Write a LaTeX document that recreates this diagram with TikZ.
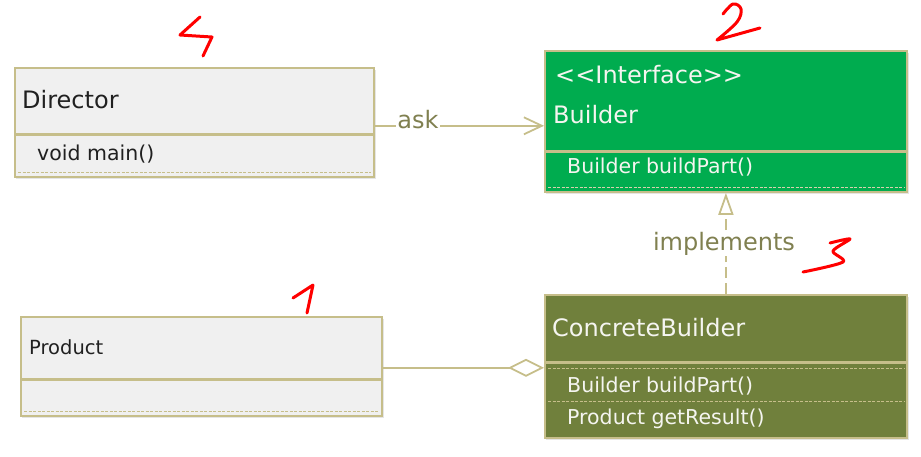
\documentclass[tikz,border=0pt]{standalone}
\usepackage{fontspec}
\setmainfont{DejaVu Sans}
\usetikzlibrary{arrows.meta}
\definecolor{edgecol}{RGB}{198,190,138}
\definecolor{lightbg}{RGB}{240,240,240}
\definecolor{ifgreen}{RGB}{0,172,79}
\definecolor{olivebox}{RGB}{112,128,60}
\definecolor{lblcol}{RGB}{128,128,80}
\definecolor{darktext}{RGB}{32,32,32}
\definecolor{lighttext}{RGB}{245,245,240}
\begin{document}
\begin{tikzpicture}[x=1pt,y=-1pt,
  comp/.style={draw=edgecol, line width=1.8pt, anchor=north west, inner sep=0pt, minimum width=359pt},
  greybox/.style={comp, fill=lightbg},
  greenbox/.style={comp, fill=ifgreen, minimum width=362pt},
  olivecomp/.style={comp, fill=olivebox, minimum width=362pt},
  shadowbox/.style={fill=black, opacity=0.10, draw=none},
  txt/.style={anchor=base west, inner sep=0pt},
  titletxt/.style={txt, font=\fontsize{24}{28}\selectfont},
  membtxt/.style={txt, font=\fontsize{20.5}{24}\selectfont},
  dline/.style={line width=0.9pt, dash pattern=on 3pt off 1.5pt},
  conn/.style={draw=edgecol, line width=1.8pt},
  lbl/.style={fill=white, inner sep=1pt, text=lblcol, font=\fontsize{24}{28}\selectfont, anchor=base},
  scrib/.style={draw=red, line width=3pt, line cap=round, line join=round}
]
\useasboundingbox (0,0) rectangle (921,456);

% shadows
\fill[shadowbox] (16,70) rectangle (376,179);
\fill[shadowbox] (22,319) rectangle (384,418);
\fill[shadowbox] (546,53) rectangle (909,194);
\fill[shadowbox] (546,297) rectangle (909,440);

% Director
\node[greybox, minimum height=66pt] (dirH) at (14,67) {};
\node[greybox, minimum height=42pt] (dirM) at (14,134) {};
\draw[dline, draw=edgecol] ([xshift=4pt,yshift=5pt]dirM.south west) -- ([xshift=-4pt,yshift=5pt]dirM.south east);
\node[titletxt, text=darktext] (dirT) at (22,108) {Director};
\node[membtxt, text=darktext] (dirO) at (37,160) {void main()};

% Builder
\node[greenbox, minimum height=100pt] (bldH) at (544,50) {};
\node[greenbox, minimum height=40pt] (bldM) at (544,151) {};
\draw[dline, draw=edgecol!70!white] ([xshift=4pt,yshift=5pt]bldM.south west) -- ([xshift=-4pt,yshift=5pt]bldM.south east);
\node[titletxt, text=lighttext] (bldS) at (555,83) {<\kern0pt<Interface>\kern0pt>};
\node[titletxt, text=lighttext] (bldT) at (553,123) {Builder};
\node[membtxt, text=lighttext] (bldO) at (567,173) {Builder buildPart()};

% ConcreteBuilder
\node[olivecomp, minimum height=67pt] (cbH) at (544,294) {};
\node[olivecomp, minimum height=75pt] (cbM) at (544,362) {};
\draw[dline, draw=edgecol] ([xshift=4pt,yshift=-6pt]cbM.north west) -- ([xshift=-4pt,yshift=-6pt]cbM.north east);
\draw[dline, draw=edgecol] ([xshift=4pt,yshift=-39pt]cbM.north west) -- ([xshift=-4pt,yshift=-39pt]cbM.north east);
\node[titletxt, text=lighttext] (cbT) at (552,336) {ConcreteBuilder};
\node[membtxt, text=lighttext] (cbO1) at (567,392) {Builder buildPart()};
\node[membtxt, text=lighttext] (cbO2) at (567,424) {Product getResult()};

% Product
\node[greybox, minimum width=361pt, minimum height=62pt] (prH) at (20,316) {};
\node[greybox, minimum width=361pt, minimum height=36pt] (prM) at (20,379) {};
\draw[dline, draw=edgecol] ([xshift=4pt,yshift=5pt]prM.south west) -- ([xshift=-4pt,yshift=5pt]prM.south east);
\node[txt, text=darktext, font=\fontsize{19.5}{23}\selectfont] (prT) at (29,354) {Product};

% ask
\coordinate (askS) at ([yshift=9pt]dirH.south east);
\draw[conn, -{Straight Barb[length=18pt,width=17pt]}] (askS) -- (askS -| bldH.west);
\node[lbl] (askL) at (418,128) {ask};

% implements
\draw[conn, dash pattern=on 11pt off 5pt, -{Triangle[open,length=22pt,width=15pt]}] (cbH.north) -- (bldM.south -| cbH.north);
\node[lbl] (implL) at (724,250) {implements};

% aggregation
\coordinate (aggS) at ([yshift=-5pt]cbH.south west);
\draw[conn, {Diamond[open,length=36pt,width=18pt]}-] (aggS) -- (aggS -| prH.east);

% red handwritten numbers
\draw[scrib] (200,17) -- (180,35) -- (212,37) -- (203,56);
\draw[scrib] plot[smooth, tension=0.6] coordinates {(723,14) (733,4) (741,9) (737,22) (717,40)} -- (760,28);
\draw[scrib] plot[smooth, tension=0.5] coordinates {(830,243) (850,239) (833,251) (843,262) (803,272)};
\draw[scrib] (293,298) -- (313,285) -- (307,313);
\end{tikzpicture}
\end{document}
